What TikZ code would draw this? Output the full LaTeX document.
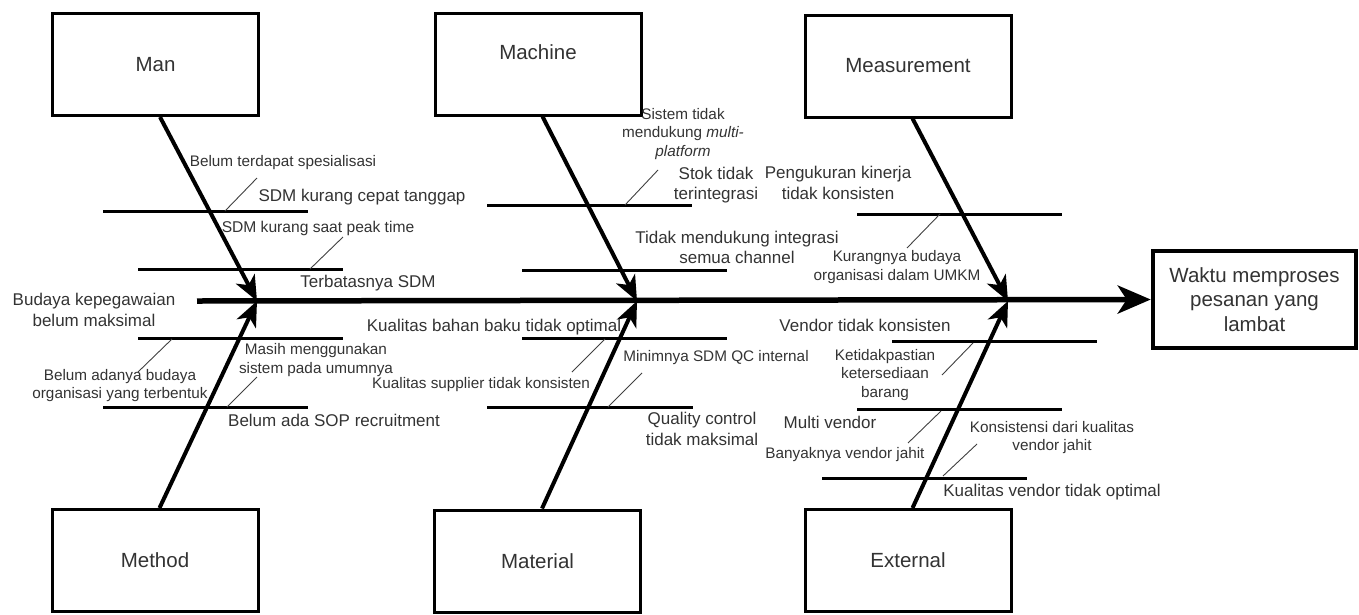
\documentclass[tikz,border=0pt]{standalone}
\usepackage{fontspec}
\setmainfont{Liberation Sans}
\usetikzlibrary{arrows.meta,calc}
\definecolor{ink}{HTML}{333333}

\begin{document}
\begin{tikzpicture}[x=1pt,y=-1pt,
  box/.style={draw=black, line width=3pt, fill=white, inner sep=0pt,
    minimum width=206pt, minimum height=102pt, text=ink,
    font=\fontsize{20.5}{24.6}\selectfont},
  headbox/.style={box, line width=4.5pt, minimum width=203pt, minimum height=97pt,
    align=center},
  boxtext/.style={text=ink, inner sep=0pt, font=\fontsize{20.5}{24.6}\selectfont},
  big/.style={text=ink, inner sep=0pt, align=center,
    font=\fontsize{17}{20.4}\selectfont},
  small/.style={text=ink, inner sep=0pt, align=center,
    font=\fontsize{15.3}{18.4}\selectfont},
  spine/.style={line width=5.5pt,
    -{Stealth[length=33pt,width=28pt,inset=9pt]}},
  bone/.style={line width=4pt,
    -{Stealth[length=25pt,width=21pt,inset=7pt]}},
  rib/.style={line width=3pt},
  tick/.style={line width=0.9pt, draw=black!75},
]
\useasboundingbox (0,0) rectangle (1359,614);

% category boxes
\node[box] (man) at (155.5,64.5) {Man};
\node[box] (machine) at (538,64) {};
\node[boxtext] (machinelbl) at (538,52) {Machine};
\node[box] (measurement) at (908,66) {Measurement};
\node[box] (method) at (155,560.5) {Method};
\node[box] (material) at (537.5,561) {Material};
\node[box] (external) at (908,560.5) {External};

% effect
\node[headbox] (effect) at (1254.5,299.5) {Waktu memproses\\pesanan yang\\lambat};

% spine and joints
\coordinate (tail) at (197,301);
\coordinate (jman) at (257,301);
\coordinate (jmach) at (637,301);
\coordinate (jmeas) at (1008,301);
\draw[spine] (tail) -- (effect.west);

% sub-cause ribs
\draw[rib] (103,211) -- (308,211);
\draw[rib] (138,269) -- (343,269);
\draw[rib] (138,338) -- (343,338);
\draw[rib] (103,407) -- (308,407);
\draw[rib] (487,205) -- (692,205);
\draw[rib] (522,270) -- (727,270);
\draw[rib] (522,338) -- (727,338);
\draw[rib] (487,407) -- (693,407);
\draw[rib] (857,214) -- (1062,214);
\draw[rib] (892,341) -- (1097,341);
\draw[rib] (857,409) -- (1062,409);
\draw[rib] (822,478) -- (1027,478);

% bones
\draw[bone] ($(man.south)+(4.5,0)$) -- (jman);
\draw[bone] ($(method.north)+(4.5,0)$) -- (jman);
\draw[bone] ($(machine.south)+(4.5,0)$) -- (jmach);
\draw[bone] ($(material.north)+(4.5,0)$) -- (jmach);
\draw[bone] ($(measurement.south)+(4.5,0)$) -- (jmeas);
\draw[bone] ($(external.north)+(4.5,0)$) -- (jmeas);

% short leader strokes
\draw[tick] (257,178) -- (225,211);
\draw[tick] (343,237) -- (310,269);
\draw[tick] (172,339) -- (138,372);
\draw[tick] (257,377) -- (227,407);
\draw[tick] (658,170) -- (625,205);
\draw[tick] (605,339) -- (572,372);
\draw[tick] (642,373) -- (608,407);
\draw[tick] (940,214) -- (907,248);
\draw[tick] (973,343) -- (942,375);
\draw[tick] (941,411) -- (908,443);
\draw[tick] (977,444) -- (943,476);

% Man
\node[small] (t1) at (283,163) {Belum terdapat spesialisasi};
\node[big] (t2) at (362,197) {SDM kurang cepat tanggap};
\node[small,font=\fontsize{15.6}{18.7}\selectfont] (t3) at (318,228) {SDM kurang saat peak time};
\node[big] (t4) at (368,283) {Terbatasnya SDM};
% Method
\node[big] (t5) at (94,310) {Budaya kepegawaian\\belum maksimal};
\node[small] (t6) at (120,385.5) {Belum adanya budaya\\organisasi yang terbentuk};
\node[small] (t7) at (316,360) {Masih menggunakan\\sistem pada umumnya};
\node[big] (t8) at (334,420) {Belum ada SOP recruitment};
% Machine
\node[small] (t9) at (683,134) {Sistem tidak\\mendukung \textit{multi-}\\\textit{platform}};
\node[big] (t10) at (716,185) {Stok tidak\\terintegrasi};
\node[big] (t11) at (737,247.5) {Tidak mendukung integrasi\\semua channel};
% Material
\node[big] (t12) at (494,327) {Kualitas bahan baku tidak optimal};
\node[small] (t13) at (481,385) {Kualitas supplier tidak konsisten};
\node[small] (t14) at (716,358) {Minimnya SDM QC internal};
\node[big] (t15) at (702,429) {Quality control\\tidak maksimal};
% Measurement
\node[big] (t16) at (838,183) {Pengukuran kinerja\\tidak konsisten};
\node[small] (t17) at (897,267) {Kurangnya budaya\\organisasi dalam UMKM};
% External
\node[big] (t18) at (865,325) {Vendor tidak konsisten};
\node[small] (t19) at (885,375) {Ketidakpastian\\ketersediaan\\barang};
\node[big] (t20) at (830,422) {Multi vendor};
\node[small] (t21) at (845,455) {Banyaknya vendor jahit};
\node[small] (t22) at (1052,437.5) {Konsistensi dari kualitas\\vendor jahit};
\node[big] (t23) at (1052,492) {Kualitas vendor tidak optimal};
\end{tikzpicture}
\end{document}
